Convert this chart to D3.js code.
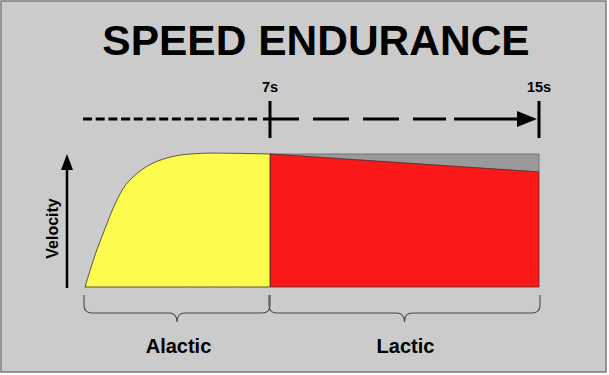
<!DOCTYPE html>
<html>
<head>
<meta charset="utf-8">
<script src="https://cdn.jsdelivr.net/npm/d3@7.9.0/dist/d3.min.js"></script>
<style>
  html, body { margin: 0; padding: 0; background: #fff; }
  svg { display: block; }
  text { font-family: "Liberation Sans", Arial, sans-serif; font-weight: bold; fill: #000; }
</style>
</head>
<body>
<svg id="chart" width="609" height="375"></svg>
<script>
// time (s) and relative velocity
const alacticTime = [0, 0.38, 0.76, 1.06, 1.44, 1.89, 2.46, 3.1, 3.97, 4.84, 5.8, 7];
const alacticVelocity = [0, 0.24, 0.44, 0.59, 0.74, 0.84, 0.92, 0.97, 1.0, 1.007, 1.005, 1.0];
const lacticTime = [7, 15];
const lacticVelocity = [1.0, 0.865];
const maxVelocity = 1.0;

const timeTicks = [7, 15];
const tickLabels = ['7s', '15s'];
const phases = [
  { name: 'Alactic', from: 0, to: 7 },
  { name: 'Lactic', from: 7, to: 15 }
];

const svg = d3.select('#chart');

// frame
svg.append('rect')
  .attr('x', 1).attr('y', 1)
  .attr('width', 605).attr('height', 371)
  .attr('fill', '#cbcbcb')
  .attr('stroke', '#7a7a7a')
  .attr('stroke-width', 1.5);

svg.append('text')
  .attr('x', 316).attr('y', 55)
  .attr('text-anchor', 'middle')
  .attr('font-size', 42.5)
  .text('SPEED ENDURANCE');

// time is not to scale in the original: 0-7s is squeezed
const x = d3.scaleLinear().domain([0, 7, 15]).range([85, 270, 539]);
const y = d3.scaleLinear().domain([0, 1]).range([287, 154]);

const alactic = alacticTime.map((t, i) => ({ t, v: alacticVelocity[i] }));
const lactic = lacticTime.map((t, i) => ({ t, v: lacticVelocity[i] }));

// gray = velocity lost to fatigue
svg.append('path')
  .datum(lactic)
  .attr('d', d3.area()
    .x(d => x(d.t))
    .y0(d => y(d.v))
    .y1(y(maxVelocity)))
  .attr('fill', '#9a9a9a')
  .attr('stroke', '#666')
  .attr('stroke-width', 0.8);

svg.append('path')
  .datum(lactic)
  .attr('d', d3.area()
    .x(d => x(d.t))
    .y0(y(0))
    .y1(d => y(d.v)))
  .attr('fill', '#fa1818')
  .attr('stroke', '#5a2a2a')
  .attr('stroke-width', 0.8);

svg.append('path')
  .datum(alactic)
  .attr('d', d3.area()
    .x(d => x(d.t))
    .y0(y(0))
    .y1(d => y(d.v))
    .curve(d3.curveMonotoneX))
  .attr('fill', '#fcfb4e')
  .attr('stroke', '#333')
  .attr('stroke-width', 0.8);

// velocity axis arrow
const ax = 67;
svg.append('line')
  .attr('x1', ax).attr('x2', ax)
  .attr('y1', y(0) + 1).attr('y2', y(1) + 14)
  .attr('stroke', '#000').attr('stroke-width', 2.5);
svg.append('path')
  .attr('d', `M${ax},${y(1)} L${ax - 6},${y(1) + 16} L${ax + 6},${y(1) + 16} Z`)
  .attr('fill', '#000');
svg.append('text')
  .attr('transform', `translate(52,${(y(0) + y(1)) / 2 + 8}) rotate(-90)`)
  .attr('text-anchor', 'middle')
  .attr('dominant-baseline', 'central')
  .attr('font-size', 16)
  .text('Velocity');

// time line on top
const ty = 119;
svg.append('line')
  .attr('x1', x(0) - 2).attr('x2', x(7) - 10)
  .attr('y1', ty).attr('y2', ty)
  .attr('stroke', '#000').attr('stroke-width', 3.2)
  .attr('stroke-dasharray', '9,3.7');
svg.append('line')
  .attr('x1', x(7) - 7).attr('x2', x(7) + 176)
  .attr('y1', ty).attr('y2', ty)
  .attr('stroke', '#000').attr('stroke-width', 3.2)
  .attr('stroke-dasharray', '36,14');
svg.append('line')
  .attr('x1', x(15) - 85).attr('x2', x(15) - 18)
  .attr('y1', ty).attr('y2', ty)
  .attr('stroke', '#000').attr('stroke-width', 3.2);
svg.append('path')
  .attr('d', `M${x(15) - 2},${ty} L${x(15) - 22},${ty - 8} L${x(15) - 22},${ty + 8} Z`)
  .attr('fill', '#000');

svg.selectAll('.tick')
  .data(timeTicks)
  .join('line')
    .attr('class', 'tick')
    .attr('x1', d => x(d)).attr('x2', d => x(d))
    .attr('y1', 101).attr('y2', 138)
    .attr('stroke', '#000').attr('stroke-width', 3);

svg.selectAll('.tick-label')
  .data(timeTicks)
  .join('text')
    .attr('class', 'tick-label')
    .attr('x', d => x(d))
    .attr('y', 92)
    .attr('text-anchor', 'middle')
    .attr('font-size', 14.5)
    .text((d, i) => tickLabels[i]);

// curly braces under each phase
function brace(x1, x2) {
  const y0 = 295, y1 = 313, y2 = 322, r = 8, m = (x1 + x2) / 2;
  return `M${x1},${y0} L${x1},${y1 - r} Q${x1},${y1} ${x1 + r},${y1}` +
    ` L${m - 8},${y1} Q${m},${y1} ${m},${y2} Q${m},${y1} ${m + 8},${y1}` +
    ` L${x2 - r},${y1} Q${x2},${y1} ${x2},${y1 - r} L${x2},${y0}`;
}

svg.selectAll('.brace')
  .data(phases)
  .join('path')
    .attr('class', 'brace')
    .attr('d', d => brace(x(d.from) - 1, x(d.to) + (d.to === 15 ? 1 : 0)))
    .attr('fill', 'none')
    .attr('stroke', '#4a4a4a')
    .attr('stroke-width', 1.1);

svg.selectAll('.phase')
  .data(phases)
  .join('text')
    .attr('class', 'phase')
    .attr('x', d => (x(d.from) + x(d.to)) / 2 + 1)
    .attr('y', 353)
    .attr('text-anchor', 'middle')
    .attr('font-size', 20)
    .text(d => d.name);
</script>
</body>
</html>
